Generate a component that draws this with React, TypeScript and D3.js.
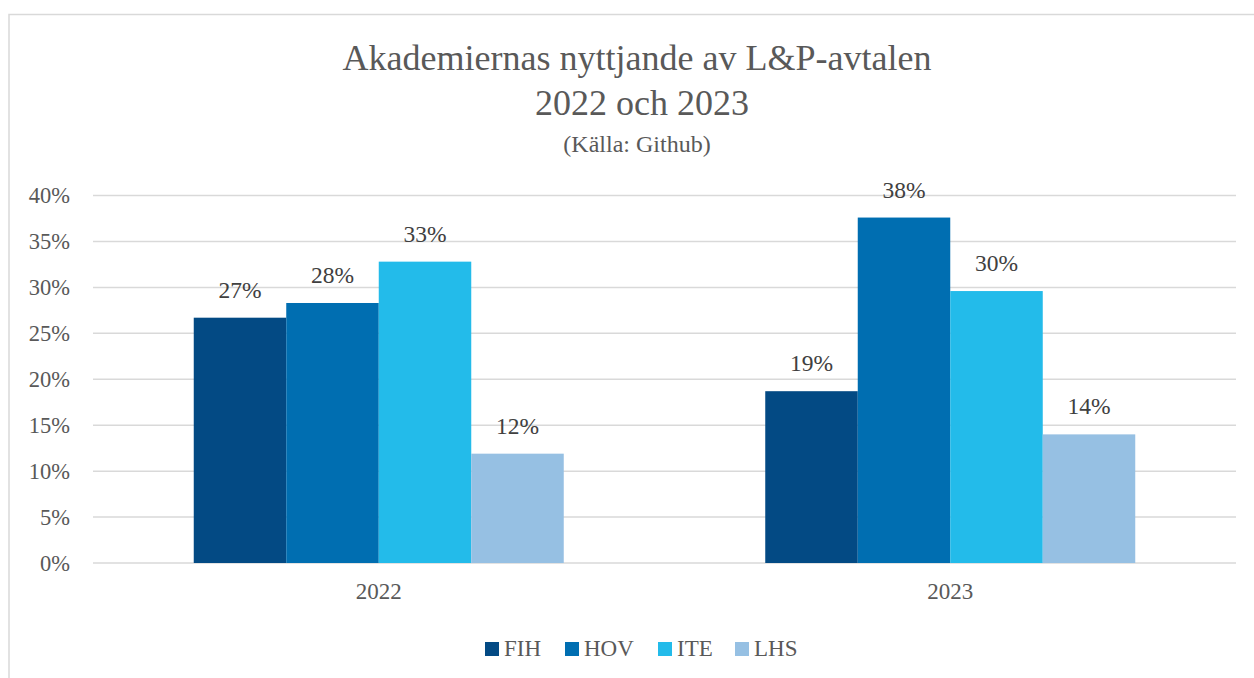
import React from "react";
import * as d3 from "d3";

const categories = ["2022", "2023"];
const seriesNames = ["FIH", "HOV", "ITE", "LHS"];
const seriesColors = ["#034A84", "#006EB1", "#23BBEA", "#96C0E3"];
const valuesFIH = [0.267, 0.187];
const valuesHOV = [0.283, 0.376];
const valuesITE = [0.328, 0.296];
const valuesLHS = [0.119, 0.140];
const yTicks = [0, 0.05, 0.1, 0.15, 0.2, 0.25, 0.3, 0.35, 0.4];
const titleLines = ["Akademiernas nyttjande av L&P-avtalen", "2022 och 2023"];
const subtitle = "(Källa: Github)";

const W = 1254;
const H = 678;
const FONT = "'Liberation Serif', 'Times New Roman', Times, serif";
const tStyle = { fontFamily: FONT };

export default function App() {
  const series = [valuesFIH, valuesHOV, valuesITE, valuesLHS];
  const plotLeft = 93;
  const plotRight = 1236;
  const y = d3.scaleLinear().domain([0, 0.4]).range([563, 195.5]);
  const x0 = d3.scaleBand().domain(categories).range([plotLeft, plotRight]).paddingInner(0).paddingOuter(0);
  const groupW = 370;
  const x1 = d3
    .scaleBand()
    .domain(seriesNames)
    .range([(x0.bandwidth() - groupW) / 2, (x0.bandwidth() + groupW) / 2])
    .padding(0);
  const pct = d3.format(".0%");
  const legendSquareX = [485, 565, 658, 735];

  return (
    <svg
      width={W}
      height={H}
      style={{ position: "absolute", left: 0, top: 0, background: "#fff" }}
    >
      <rect x={9} y={14.5} width={1260} height={700} fill="#fff" stroke="#d9d9d9" strokeWidth={1.5} />
      <text x={637} y={70} textAnchor="middle" fontSize={36} fill="#595959" style={tStyle}>
        {titleLines[0]}
      </text>
      <text x={642} y={115} textAnchor="middle" fontSize={36} fill="#595959" style={tStyle}>
        {titleLines[1]}
      </text>
      <text x={637} y={152} textAnchor="middle" fontSize={24} fill="#595959" style={tStyle}>
        {subtitle}
      </text>
      {yTicks.map((t) => (
        <g key={t}>
          <line x1={plotLeft} x2={plotRight} y1={y(t)} y2={y(t)} stroke="#d9d9d9" strokeWidth={1.5} />
          <text x={70} y={y(t)} dy="0.35em" textAnchor="end" fontSize={22.5} fill="#595959" style={tStyle}>
            {pct(t)}
          </text>
        </g>
      ))}
      {categories.map((c, ci) => (
        <g key={c} transform={`translate(${x0(c)},0)`}>
          {seriesNames.map((s, si) => {
            const v = series[si][ci];
            const bx = x1(s) as number;
            return (
              <g key={s}>
                <rect x={bx} y={y(v)} width={x1.bandwidth()} height={y(0) - y(v)} fill={seriesColors[si]} />
                <text
                  x={bx + x1.bandwidth() / 2}
                  y={y(v) - 20}
                  textAnchor="middle"
                  fontSize={23.5}
                  fill="#404040"
                  style={tStyle}
                >
                  {pct(v)}
                </text>
              </g>
            );
          })}
          <text x={x0.bandwidth() / 2} y={599} textAnchor="middle" fontSize={23} fill="#595959" style={tStyle}>
            {c}
          </text>
        </g>
      ))}
      {seriesNames.map((s, i) => {
        const lx = legendSquareX[i];
        return (
          <g key={s}>
            <rect x={lx} y={642} width={14} height={14} fill={seriesColors[i]} />
            <text x={lx + 19} y={656} fontSize={23} fill="#595959" style={tStyle}>
              {s}
            </text>
          </g>
        );
      })}
    </svg>
  );
}
